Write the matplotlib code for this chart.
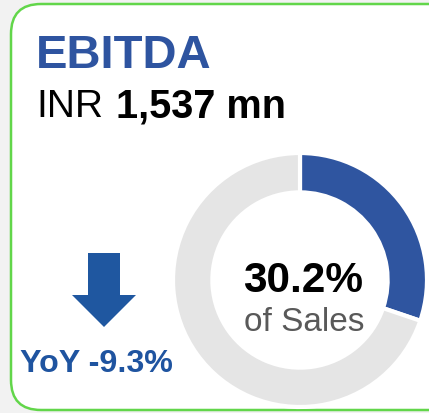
import matplotlib.pyplot as plt
from matplotlib.patches import FancyBboxPatch, FancyArrow

title = 'EBITDA'
currency = 'INR'
amount = '1,537 mn'
margin_labels = ['EBITDA', 'Rest of sales']
margin_values = [30.2, 69.8]
yoy_label = 'YoY -9.3%'

W, H = 429, 413
plt.rcParams['font.family'] = ['Liberation Sans', 'DejaVu Sans']

fig = plt.figure(figsize=(W / 100, H / 100), dpi=100, facecolor='#f2f2f2')
ax = fig.add_axes([0, 0, 1, 1])
ax.set_xlim(0, W)
ax.set_ylim(H, 0)
ax.axis('off')

# card
ax.add_patch(FancyBboxPatch((11, 4), 470, 406,
                            boxstyle='round,pad=0,rounding_size=30',
                            facecolor='white', edgecolor='#62d64a', lw=1.8))

ax.text(36, 68, title, color='#2e54a0', fontsize=34, fontweight='bold', va='baseline')
ax.text(36, 117, currency, color='black', fontsize=28, va='baseline')
ax.text(116, 117, amount, color='black', fontsize=28.5, fontweight='bold', va='baseline')

# down arrow + YoY
ax.add_patch(FancyArrow(104, 253, 0, 74, width=32, head_width=64, head_length=32,
                        length_includes_head=True, color='#1f57a0', lw=0))
ax.text(20, 372, yoy_label, color='#1f54a0', fontsize=23.2, fontweight='bold',
        va='baseline')

# donut
cx, cy, r = 300, 280, 127
pad = 140
pax = fig.add_axes([(cx - pad) / W, (H - cy - pad) / H, 2 * pad / W, 2 * pad / H])
pax.pie(margin_values, colors=['#2f55a0', '#e5e5e5'], startangle=90, counterclock=False,
        radius=1, wedgeprops=dict(width=0.31, edgecolor='white', linewidth=3))
pax.set_xlim(-pad / r, pad / r)
pax.set_ylim(-pad / r, pad / r)
pax.axis('off')

ax.text(303, 292, f'{margin_values[0]:.1f}%', color='black', fontsize=30.5,
        fontweight='bold', ha='center', va='baseline')
ax.text(304, 331, 'of Sales', color='#595959', fontsize=24, ha='center', va='baseline')

fig.savefig('out.png', dpi=100, facecolor=fig.get_facecolor())
